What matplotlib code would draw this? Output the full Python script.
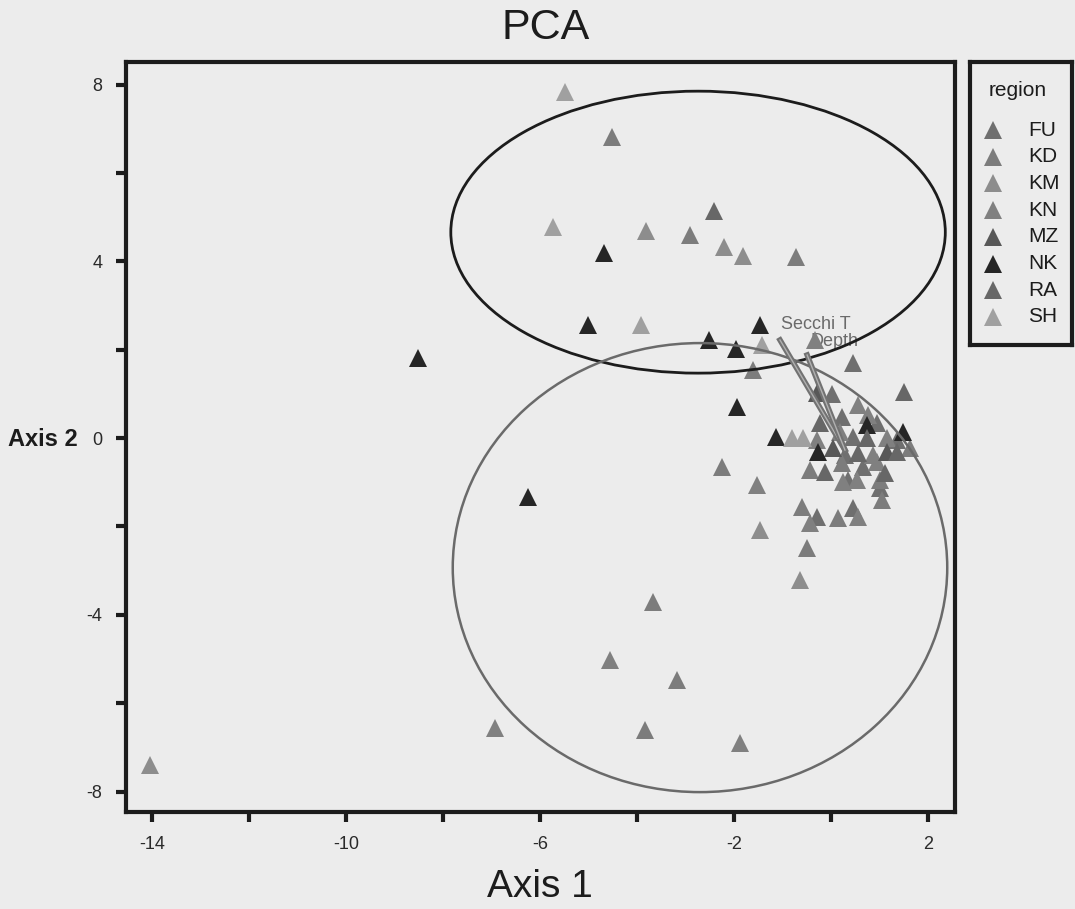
import matplotlib.pyplot as plt
from matplotlib.patches import Ellipse
import matplotlib.patheffects as pe

plt.rcParams['font.family'] = ['Liberation Sans', 'DejaVu Sans']
plt.rcParams['axes.unicode_minus'] = False

# PCA scores per sampling region (axis 1, axis 2)
regions = ["FU", "KD", "KM", "KN", "MZ", "NK", "RA", "SH"]
region_colors = ["#6f6f6f", "#7c7c7c", "#8d8d8d", "#808080", "#585858", "#262626", "#676767", "#a0a0a0"]

fu_x = [0.45, 0.02, 0.23, 0.95, 0.45, 1.36, 0.29, 0.66, 0.35, 1.01, -0.29, 0.45]
fu_y = [1.70, 1.00, 0.48, 0.34, 0.02, -0.05, -0.38, -0.66, -0.95, -1.13, -1.79, -1.58]

kd_x = [-4.52, -2.91, -0.72, -1.61, 1.63, 0.23, 1.01, -0.43, 1.05, -2.25, -0.60, 0.14, -0.49, -3.67, -3.18, -3.84]
kd_y = [6.81, 4.59, 4.10, 1.54, -0.23, -0.57, -0.95, -0.72, -1.40, -0.66, -1.56, -1.81, -2.49, -3.71, -5.48, -6.61]

km_x = [-3.81, -2.21, -1.81, -1.46, -0.64, -14.04]
km_y = [4.68, 4.32, 4.12, -2.08, -3.21, -7.40]

kn_x = [-0.33, 0.56, 0.76, 0.19, 1.15, -0.29, 0.87, 0.95, 0.54, 0.25, -1.53, -0.43, 0.56, -4.56, -6.93, -1.88]
kn_y = [2.22, 0.75, 0.52, 0.14, 0.00, -0.05, -0.38, -0.54, -0.95, -1.00, -1.06, -1.92, -1.79, -5.02, -6.56, -6.90]

mz_x = [-0.29, 0.04, 1.15]
mz_y = [1.02, -0.23, -0.32]

nk_x = [-4.68, -5.01, -2.52, -1.96, -1.46, -8.52, -1.94, -1.13, -6.25, -0.27, 0.74, 1.48]
nk_y = [4.19, 2.56, 2.22, 2.01, 2.56, 1.81, 0.70, 0.02, -1.33, -0.32, 0.29, 0.14]

ra_x = [-2.41, 1.51, -0.23, 0.74, 0.56, 1.36, 1.11, -0.12]
ra_y = [5.14, 1.04, 0.34, 0.00, -0.34, -0.32, -0.79, -0.77]

sh_x = [-5.48, -5.73, -3.92, -1.42, -0.80, -0.58]
sh_y = [7.83, 4.77, 2.56, 2.10, 0.00, 0.00]

xs = [fu_x, kd_x, km_x, kn_x, mz_x, nk_x, ra_x, sh_x]
ys = [fu_y, kd_y, km_y, kn_y, mz_y, nk_y, ra_y, sh_y]

# group ellipses: centre x, centre y, width, height
upper_ell = [-2.74, 4.66, 10.2, 6.38]
lower_ell = [-2.70, -2.93, 10.2, 10.16]

# environmental vectors
vec_origin = [0.29, -0.27]
vec_names = ["Secchi T", "Depth"]
vec_x = [-1.05, -0.49]
vec_y = [2.22, 1.88]

bg = "#ececec"
ink = "#1c1c1c"
W, H = 1075, 909
fig = plt.figure(figsize=(W / 100, H / 100), dpi=100, facecolor=bg)
ax = fig.add_axes([126 / W, 97 / H, 829 / W, 750 / H], facecolor=bg)

for name, col, x, y in zip(regions, region_colors, xs, ys):
    ax.plot(x, y, linestyle="none", marker="^", markersize=13, color=col,
            markeredgewidth=0, zorder=2)

ax.add_patch(Ellipse((upper_ell[0], upper_ell[1]), upper_ell[2], upper_ell[3],
                     fill=False, edgecolor=ink, linewidth=2.0, zorder=3))
ax.add_patch(Ellipse((lower_ell[0], lower_ell[1]), lower_ell[2], lower_ell[3],
                     fill=False, edgecolor="#6a6a6a", linewidth=1.8, zorder=3))

double = [pe.Stroke(linewidth=4.0, foreground="#727272"), pe.Stroke(linewidth=1.0, foreground="#b0b0b0")]
for name, vx, vy in zip(vec_names, vec_x, vec_y):
    ax.plot([vec_origin[0], vx], [vec_origin[1], vy], color="#727272", linewidth=4.0,
            path_effects=double, zorder=3)
ax.text(vec_x[0] + 0.02, vec_y[0] + 0.36, vec_names[0], fontsize=13, color="#6a6a6a",
        va="center", ha="left", zorder=1)
ax.text(vec_x[1] + 0.06, vec_y[1] + 0.30, vec_names[1], fontsize=13, color="#6a6a6a",
        va="center", ha="left", zorder=1)

ax.set_xlim(-14.54, 2.56)
ax.set_ylim(-8.46, 8.51)
ax.set_xticks([-14, -10, -6, -2, 2])
ax.set_xticks([-12, -8, -4, 0], minor=True)
ax.set_yticks([-8, -4, 0, 4, 8])
ax.set_yticks([-6, -2, 2, 6], minor=True)
ax.tick_params(which="both", direction="out", length=7, width=3, color=ink,
               labelsize=13, labelcolor="#2a2a2a", pad=10)
for s in ax.spines.values():
    s.set_linewidth(3)
    s.set_color(ink)

fig.text(546 / W, 1 - 28 / H, "PCA", fontsize=31, ha="center", va="center", color=ink)
fig.text(540 / W, 1 - 887 / H, "Axis 1", fontsize=28, ha="center", va="center", color=ink)
fig.text(43 / W, 1 - 440 / H, "Axis 2", fontsize=17, fontweight="bold", ha="center",
         va="center", color=ink)

# legend box to the right of the plot, laid out in pixel units
lg = fig.add_axes([970 / W, 1 - 345 / H, 102 / W, 283 / H], facecolor=bg)
lg.set_xlim(0, 102)
lg.set_ylim(283, 0)
lg.set_xticks([])
lg.set_yticks([])
for s in lg.spines.values():
    s.set_linewidth(3)
    s.set_color(ink)
lg.text(48, 28, "region", fontsize=15, ha="center", va="center", color=ink)
for i, (name, col) in enumerate(zip(regions, region_colors)):
    row = 68 + i * 26.7
    lg.plot([23], [row], linestyle="none", marker="^", markersize=13, color=col, markeredgewidth=0)
    lg.text(58, row, name, fontsize=15, ha="left", va="center", color=ink)

fig.savefig("out.png", dpi=100, facecolor=bg)
